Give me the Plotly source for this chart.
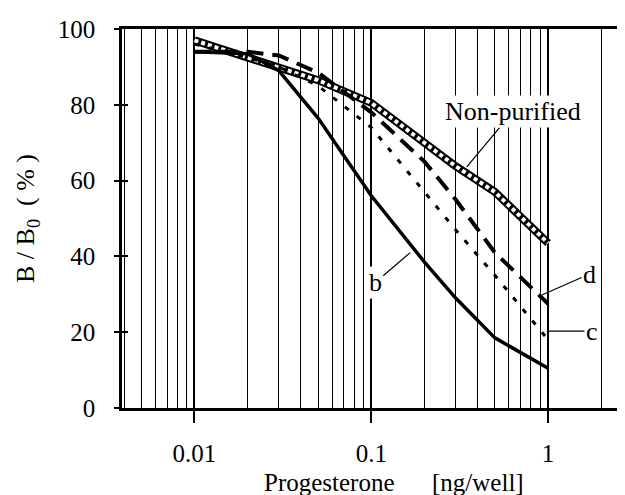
import plotly.graph_objects as go

# ---- data ----
dose = [0.01, 0.02, 0.03, 0.05, 0.1, 0.2, 0.3, 0.5, 1]
non_purified = [97, 92.5, 89.8, 86.5, 80.5, 70, 63.8, 57, 43.5]
curve_b = [94, 93.5, 89, 76.5, 56, 38.5, 29, 18.5, 10.5]
curve_c = [96, 92.5, 90, 85, 74, 57, 47, 35, 18]
curve_d = [94, 94, 93, 88.5, 78, 65, 55, 41, 27.5]

x_tickvals = [0.01, 0.1, 1]
x_ticktext = ["0.01", "0.1", "1"]
x_minor_vals = [0.004, 0.005, 0.006, 0.007, 0.008, 0.009,
                0.02, 0.03, 0.04, 0.05, 0.06, 0.07, 0.08, 0.09,
                0.2, 0.3, 0.4, 0.5, 0.6, 0.7, 0.8, 0.9, 2]
y_tickvals = [0, 20, 40, 60, 80, 100]

FONT = "Liberation Serif, Times New Roman, serif"

fig = go.Figure()

# Non-purified: hollow chain look (black thick line + white broken core)
fig.add_trace(go.Scatter(x=dose, y=non_purified, mode="lines",
                         line=dict(color="black", width=8),
                         showlegend=False, hoverinfo="skip"))
fig.add_trace(go.Scatter(x=dose, y=non_purified, mode="lines", name="Non-purified",
                         line=dict(color="white", width=4, dash="4px,3px"),
                         showlegend=False))
fig.add_trace(go.Scatter(x=dose, y=curve_d, mode="lines", name="d",
                         line=dict(color="black", width=4, dash="17px,9px"),
                         showlegend=False))
fig.add_trace(go.Scatter(x=dose, y=curve_c, mode="lines", name="c",
                         line=dict(color="black", width=3, dash="5px,10px"),
                         showlegend=False))
fig.add_trace(go.Scatter(x=dose, y=curve_b, mode="lines", name="b",
                         line=dict(color="black", width=3.5),
                         showlegend=False))

# invisible trace on overlay axis to carry inside y ticks
fig.add_trace(go.Scatter(x=[dose[0]], y=[curve_b[0]], yaxis="y2", mode="markers",
                         marker=dict(opacity=0), showlegend=False, hoverinfo="skip"))

fig.update_layout(
    width=625, height=495,
    margin=dict(l=114, r=8, t=15, b=95),
    paper_bgcolor="white", plot_bgcolor="white",
    font=dict(family=FONT, color="black", size=25),
    xaxis=dict(
        type="log", range=[-2.41, 0.435],
        tickmode="array", tickvals=x_tickvals, ticktext=x_ticktext,
        ticks="outside", ticklen=12, tickwidth=2, tickcolor="black",
        showline=True, linewidth=2.5, linecolor="black", mirror=True,
        showgrid=True, gridcolor="black", gridwidth=2,
        minor=dict(tickmode="array", tickvals=x_minor_vals, showgrid=True,
                   gridcolor="black", gridwidth=1, ticks=""),
        tickfont=dict(size=25), ticklabelstandoff=9,
        zeroline=False,
    ),
    yaxis=dict(
        range=[0, 100], tickmode="array", tickvals=y_tickvals,
        ticks="outside", ticklen=5, tickwidth=2, tickcolor="black",
        showline=True, linewidth=2.5, linecolor="black",
        showgrid=False, zeroline=False,
        tickfont=dict(size=25), ticklabelstandoff=14,
        title=dict(text="B / B<sub>0</sub>  ( % )", font=dict(size=26), standoff=16),
    ),
    yaxis2=dict(
        overlaying="y", side="left", range=[0, 100], tickmode="array",
        tickvals=y_tickvals, ticks="inside", ticklen=6, tickwidth=2,
        tickcolor="black", showticklabels=False, showgrid=False,
        zeroline=False, showline=False,
    ),
    showlegend=False,
)

ann_font = dict(family=FONT, size=26, color="black")
fig.add_annotation(x=-0.46, y=63.6, xref="x", yref="y", text="Non-purified",
                   showarrow=True, arrowhead=0, arrowwidth=1.2, arrowcolor="black",
                   ax=46, ay=-55, font=ann_font, bgcolor="white")
fig.add_annotation(x=-0.78, y=41, xref="x", yref="y", text="b",
                   showarrow=True, arrowhead=0, arrowwidth=1.2, arrowcolor="black",
                   ax=-35, ay=30, font=ann_font, bgcolor="white")
fig.add_annotation(x=-0.036, y=29.8, xref="x", yref="y", text="d",
                   showarrow=True, arrowhead=0, arrowwidth=1.2, arrowcolor="black",
                   ax=48, ay=-21, font=ann_font, bgcolor="white")
fig.add_annotation(x=-0.007, y=20.3, xref="x", yref="y", text="c",
                   showarrow=True, arrowhead=0, arrowwidth=1.2, arrowcolor="black",
                   ax=45, ay=0, font=ann_font, bgcolor="white")
# x-axis title (centered slightly right of plot centre, as in the reference)
fig.add_annotation(x=(394 - 122) / 503, y=(400 - 476) / 385, xref="paper", yref="paper",
                   text="Progesterone\u00a0\u00a0\u00a0\u00a0\u00a0\u00a0[ng/well]",
                   showarrow=False, font=dict(family=FONT, size=25, color="black"),
                   yanchor="middle")

fig.write_html("out.html")
